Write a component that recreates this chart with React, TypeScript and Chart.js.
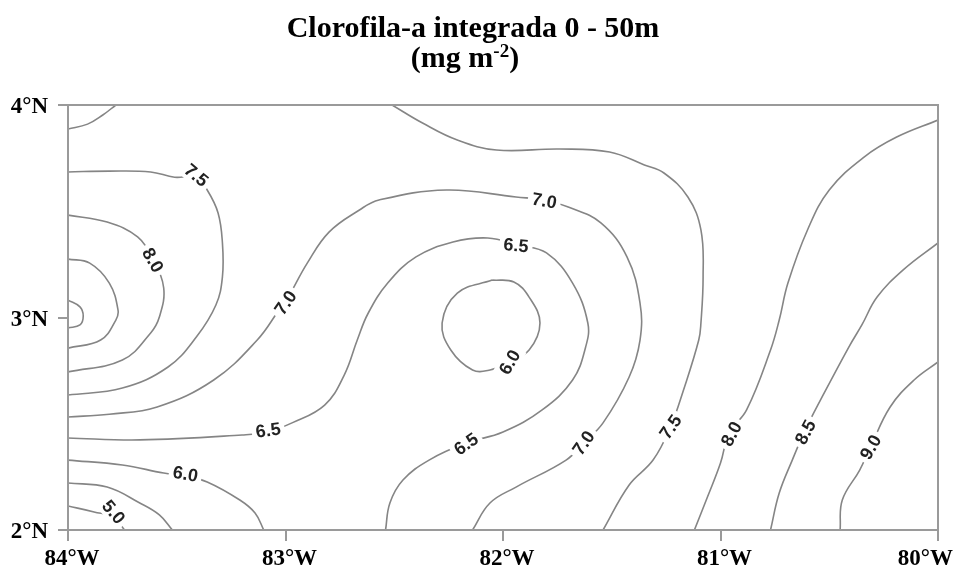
import { useEffect, useRef } from 'react';
import { Chart, registerables } from 'chart.js';

Chart.register(...registerables);

// ---------- text ----------
const title1 = 'Clorofila-a integrada 0 - 50m';
const title2Base = '(mg m';
const title2Sup = '-2';
const title2End = ')';

// ---------- axes ----------
const xTickValues = [-84, -83, -82, -81, -80];
const xTickLabels = ['84°W', '83°W', '82°W', '81°W', '80°W'];
const yTickValues = [2, 3, 4];
const yTickLabels = ['2°N', '3°N', '4°N'];

// ---------- contour lines: [longitude (°E, negative = W), latitude °N] ----------
type P = [number, number];

const contourNWCorner: P[] = [[-83.78, 4.0], [-83.84, 3.953], [-83.91, 3.91], [-84.0, 3.887]];

const contour75West: P[] = [
  [-84.0, 3.685], [-83.81, 3.689], [-83.62, 3.685], [-83.51, 3.66], [-83.41, 3.66], [-83.36, 3.6],
  [-83.31, 3.492], [-83.29, 3.351], [-83.29, 3.191], [-83.32, 3.059], [-83.41, 2.908],
  [-83.54, 2.767], [-83.75, 2.668], [-84.0, 2.635],
];

const contour80West: P[] = [
  [-84.0, 3.482], [-83.82, 3.449], [-83.68, 3.379], [-83.61, 3.271], [-83.56, 3.139],
  [-83.58, 3.002], [-83.62, 2.927], [-83.75, 2.8], [-84.0, 2.744],
];

const contour85West: P[] = [
  [-84.0, 3.275], [-83.9, 3.256], [-83.81, 3.162], [-83.77, 3.035], [-83.78, 2.988],
  [-83.85, 2.894], [-84.0, 2.856],
];

const contour90West: P[] = [
  [-84.0, 3.082], [-83.945, 3.05], [-83.93, 3.007], [-83.945, 2.965], [-84.0, 2.951],
];

const contour70: P[] = [
  [-84.0, 2.532], [-83.81, 2.545], [-83.59, 2.579], [-83.33, 2.706], [-83.13, 2.894], [-83.03, 3.035],
  [-82.99, 3.092], [-82.9, 3.256], [-82.8, 3.402], [-82.66, 3.506], [-82.57, 3.553],
  [-82.26, 3.6], [-81.94, 3.567], [-81.81, 3.553], [-81.7, 3.52], [-81.55, 3.445],
  [-81.43, 3.285], [-81.37, 3.068], [-81.37, 2.894], [-81.42, 2.72], [-81.54, 2.504],
  [-81.63, 2.409], [-81.71, 2.329], [-81.94, 2.202], [-82.06, 2.127], [-82.14, 2.0],
];

const contour65: P[] = [
  [-84.0, 2.433], [-83.67, 2.424], [-83.2, 2.447], [-83.085, 2.461], [-82.97, 2.504],
  [-82.82, 2.588], [-82.73, 2.729], [-82.67, 2.894], [-82.62, 3.02], [-82.53, 3.162],
  [-82.4, 3.285], [-82.23, 3.355], [-82.07, 3.374], [-81.93, 3.341], [-81.8, 3.304],
  [-81.68, 3.162], [-81.61, 2.974], [-81.62, 2.861], [-81.68, 2.706], [-81.82, 2.565],
  [-82.0, 2.461], [-82.17, 2.409], [-82.34, 2.329], [-82.46, 2.235], [-82.52, 2.127], [-82.54, 2.0],
];

const contour60Center: P[] = [
  [-82.05, 3.176], [-82.21, 3.115], [-82.28, 2.974], [-82.24, 2.847], [-82.14, 2.753],
  [-82.06, 2.753], [-81.98, 2.786], [-81.88, 2.847], [-81.83, 2.974], [-81.88, 3.096],
  [-81.95, 3.167], [-82.05, 3.176],
];

const contour75East: P[] = [
  [-82.51, 4.0], [-82.37, 3.915], [-82.21, 3.835], [-82.03, 3.788], [-81.74, 3.793],
  [-81.51, 3.779], [-81.35, 3.718], [-81.26, 3.68], [-81.15, 3.567], [-81.09, 3.412],
  [-81.08, 3.191], [-81.09, 2.974], [-81.1, 2.894], [-81.17, 2.659], [-81.23, 2.485],
  [-81.31, 2.329], [-81.42, 2.212], [-81.54, 2.0],
];

const contour80East: P[] = [
  [-80.0, 3.929], [-80.19, 3.849], [-80.34, 3.755], [-80.5, 3.6], [-80.6, 3.412],
  [-80.69, 3.162], [-80.73, 2.988], [-80.77, 2.847], [-80.88, 2.565], [-80.96, 2.456],
  [-81.0, 2.315], [-81.06, 2.155], [-81.12, 2.0],
];

const contour85East: P[] = [
  [-80.0, 3.351], [-80.16, 3.224], [-80.28, 3.096], [-80.35, 2.965], [-80.41, 2.861],
  [-80.54, 2.612], [-80.61, 2.471], [-80.67, 2.329], [-80.73, 2.174], [-80.77, 2.0],
];

const contour90East: P[] = [
  [-80.0, 2.791], [-80.11, 2.706], [-80.22, 2.579], [-80.31, 2.391], [-80.36, 2.282],
  [-80.44, 2.141], [-80.45, 2.0],
];

const contour60South: P[] = [
  [-84.0, 2.329], [-83.75, 2.306], [-83.56, 2.268], [-83.46, 2.254], [-83.36, 2.226],
  [-83.21, 2.141], [-83.14, 2.08], [-83.1, 2.0],
];

const contour55South: P[] = [
  [-84.0, 2.221], [-83.82, 2.202], [-83.67, 2.127], [-83.58, 2.071], [-83.52, 2.0],
];

const contour50South: P[] = [
  [-84.0, 2.113], [-83.88, 2.085], [-83.79, 2.06], [-83.74, 2.0],
];

const contourLines: P[][] = [
  contourNWCorner, contour75West, contour80West, contour85West, contour90West,
  contour70, contour65, contour60Center, contour75East, contour80East, contour85East,
  contour90East, contour60South, contour55South, contour50South,
];

// ---------- contour labels ----------
const labelTexts = ['7.5', '8.0', '7.0', '6.5', '7.0', '6.5', '6.0', '6.5', '7.0', '7.5', '8.0', '8.5', '9.0', '6.0', '5.0'];
const labelLon = [-83.41, -83.61, -83.0, -83.08, -81.81, -81.94, -81.97, -82.17, -81.63, -81.23, -80.95, -80.61, -80.31, -83.46, -83.79];
const labelLat = [3.67, 3.27, 3.07, 2.47, 3.55, 3.34, 2.79, 2.405, 2.41, 2.485, 2.452, 2.461, 2.39, 2.264, 2.085];
const labelAngle = [40, 60, -55, -8, 10, 5, -60, -35, -55, -55, -62, -62, -60, 10, 50];

const SERIF = '"Liberation Serif", "Times New Roman", serif';
const SANS = '"Liberation Sans", Arial, sans-serif';
const FRAME = '#9a9a9a';

const decorPlugin = {
  id: 'decor',
  afterDatasetsDraw(chart: any) {
    const { ctx, chartArea } = chart;
    const xs = chart.scales.x;
    const ys = chart.scales.y;
    const { left, right, top, bottom } = chartArea;

    // contour labels
    ctx.save();
    ctx.font = `bold 18px ${SANS}`;
    ctx.textAlign = 'center';
    ctx.textBaseline = 'middle';
    labelTexts.forEach((t, i) => {
      const px = xs.getPixelForValue(labelLon[i]);
      const py = ys.getPixelForValue(labelLat[i]);
      ctx.save();
      ctx.translate(px, py);
      ctx.rotate((labelAngle[i] * Math.PI) / 180);
      const w = ctx.measureText(t).width;
      ctx.fillStyle = '#ffffff';
      ctx.fillRect(-w / 2 - 4, -10, w + 8, 20);
      ctx.fillStyle = '#222222';
      ctx.fillText(t, 0, 1);
      ctx.restore();
    });
    ctx.restore();

    // frame
    ctx.save();
    ctx.strokeStyle = FRAME;
    ctx.lineWidth = 2;
    ctx.strokeRect(left, top, right - left, bottom - top);
    // tick marks
    ctx.beginPath();
    xTickValues.forEach((v) => {
      const px = Math.round(xs.getPixelForValue(v));
      ctx.moveTo(px, bottom);
      ctx.lineTo(px, bottom + 11);
    });
    yTickValues.forEach((v) => {
      const py = Math.round(ys.getPixelForValue(v));
      ctx.moveTo(left - 10, py);
      ctx.lineTo(left, py);
    });
    ctx.stroke();
    ctx.restore();

    // tick labels
    ctx.save();
    ctx.fillStyle = '#000';
    ctx.font = `bold 23px ${SERIF}`;
    ctx.textBaseline = 'alphabetic';
    ctx.textAlign = 'center';
    xTickValues.forEach((v, i) => {
      const px = xs.getPixelForValue(v) + 4;
      const w = ctx.measureText(xTickLabels[i]).width;
      const cx = Math.min(px, chart.width - 3 - w / 2);
      ctx.fillText(xTickLabels[i], cx, bottom + 35);
    });
    ctx.textAlign = 'right';
    yTickValues.forEach((v, i) => {
      const py = ys.getPixelForValue(v);
      ctx.fillText(yTickLabels[i], left - 20, py + 8);
    });
    ctx.restore();

    // title
    ctx.save();
    ctx.fillStyle = '#000';
    ctx.textBaseline = 'alphabetic';
    ctx.textAlign = 'center';
    ctx.font = `bold 30px ${SERIF}`;
    ctx.fillText(title1, 473, 37);
    ctx.textAlign = 'left';
    const wBase = ctx.measureText(title2Base).width;
    const wEnd = ctx.measureText(title2End).width;
    ctx.font = `bold 19px ${SERIF}`;
    const wSup = ctx.measureText(title2Sup).width;
    let x0 = 465 - (wBase + wSup + wEnd) / 2;
    ctx.font = `bold 30px ${SERIF}`;
    ctx.fillText(title2Base, x0, 67);
    x0 += wBase;
    ctx.font = `bold 19px ${SERIF}`;
    ctx.fillText(title2Sup, x0, 57);
    x0 += wSup;
    ctx.font = `bold 30px ${SERIF}`;
    ctx.fillText(title2End, x0, 67);
    ctx.restore();
  },
};

export default function App() {
  const canvasRef = useRef<HTMLCanvasElement | null>(null);

  useEffect(() => {
    const canvas = canvasRef.current;
    if (!canvas) return;
    const chart = new Chart(canvas, {
      type: 'scatter',
      data: {
        datasets: contourLines.map((line) => ({
          data: line.map(([x, y]) => ({ x, y })),
          showLine: true,
          borderColor: '#858585',
          borderWidth: 1.6,
          pointRadius: 0,
          pointHoverRadius: 0,
          tension: 0.4,
          fill: false,
        })),
      },
      options: {
        animation: false,
        responsive: false,
        maintainAspectRatio: false,
        devicePixelRatio: 1,
        events: [],
        layout: { padding: { left: 68, right: 18, top: 105, bottom: 37 } },
        plugins: {
          legend: { display: false },
          tooltip: { enabled: false },
          title: { display: false },
        },
        scales: {
          x: { type: 'linear', min: -84, max: -80, display: false },
          y: { type: 'linear', min: 2, max: 4, display: false },
        },
      },
      plugins: [decorPlugin],
    });
    return () => chart.destroy();
  }, []);

  return (
    <div style={{ position: 'absolute', left: 0, top: 0, width: 956, height: 567, background: '#fff' }}>
      <canvas ref={canvasRef} width={956} height={567} style={{ display: 'block', width: 956, height: 567 }} />
    </div>
  );
}
